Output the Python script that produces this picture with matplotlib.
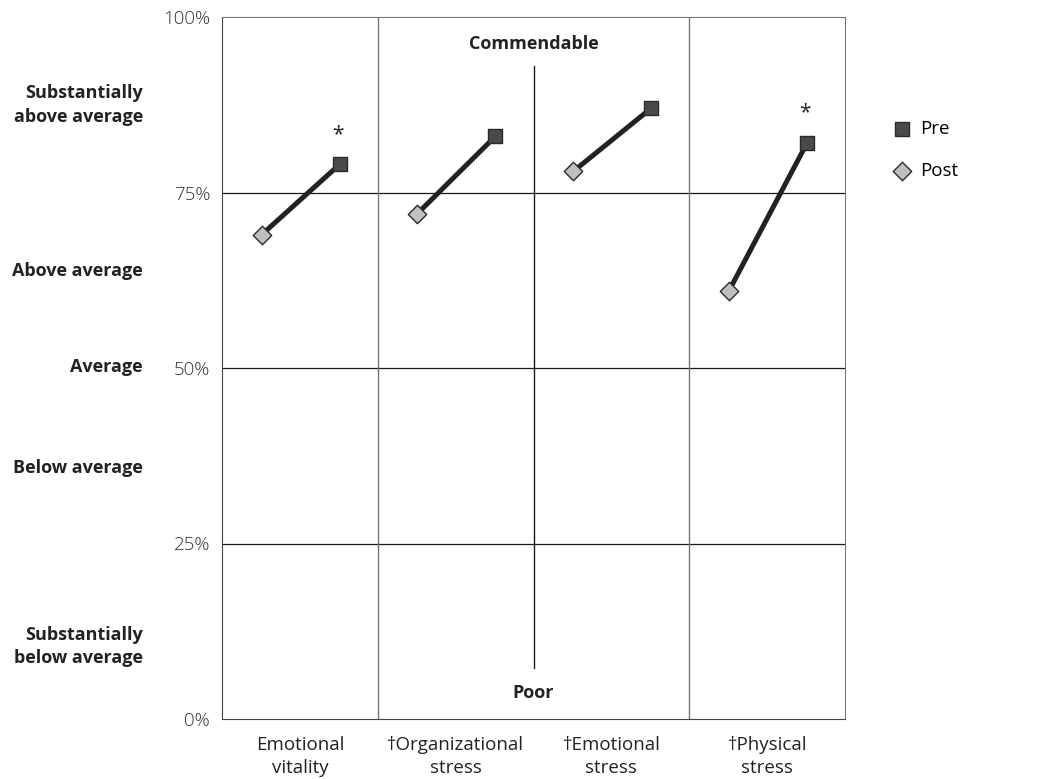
import matplotlib
matplotlib.use("Agg")
import matplotlib.pyplot as plt
import numpy as np

plt.rcParams['font.family'] = ['Open Sans', 'DejaVu Sans']

categories = ["Emotional\nvitality", "\u2020Organizational\nstress", "\u2020Emotional\nstress", "\u2020Physical\nstress"]
pre_values = [79, 83, 87, 82]
post_values = [69, 72, 78, 61]
significant = [True, False, False, True]
yticks = [0, 25, 50, 75, 100]
ytick_labels = ["0%", "25%", "50%", "75%", "100%"]
band_labels = ["Substantially\nabove average", "Above average", "Average", "Below average", "Substantially\nbelow average"]
band_positions = [87.5, 63.8, 50.1, 35.8, 10.3]

fig = plt.figure(figsize=(10.37, 7.79), dpi=100)
ax = fig.add_axes([222/1037, 60/779, 623/1037, 702/779])
ax.set_xlim(0, 4)
ax.set_ylim(0, 100)

pre_col = "#4a4a4a"
post_col = "#c0c0c0"
edge = "#2a2a2a"

# gridlines
for y in [25, 50, 75]:
    ax.axhline(y, color="#1a1a1a", lw=0.9, zorder=1)
for xv in [1, 3]:
    ax.axvline(xv, color="#777777", lw=1.0, zorder=1)
ax.plot([2, 2], [7.3, 93.0], color="#1a1a1a", lw=1.0, zorder=1)

x = np.arange(len(categories))
post_x = x + 0.255
pre_x = x + 0.755
for i in range(len(categories)):
    ax.plot([post_x[i], pre_x[i]], [post_values[i], pre_values[i]], color="#222222", lw=3.6, zorder=2, solid_capstyle='butt')
ax.scatter(pre_x, pre_values, marker='s', s=88, facecolor=pre_col, edgecolor=edge, linewidth=1.0, zorder=3, label="Pre")
ax.scatter(post_x, post_values, marker='D', s=88, facecolor=post_col, edgecolor=edge, linewidth=1.0, zorder=3, label="Post")

for i, sig in enumerate(significant):
    if sig:
        ax.text(pre_x[i] - 0.01, pre_values[i] + 4.3, "*", ha='center', va='center', fontsize=15, color="#222222")

ax.text(2, 96.2, "Commendable", ha='center', va='center', fontsize=13, fontweight='bold', color="#222222")
ax.text(2, 3.7, "Poor", ha='center', va='center', fontsize=13, fontweight='bold', color="#222222")

ax.set_yticks(yticks)
ax.set_yticklabels(ytick_labels, fontsize=13.5, color="#333333", fontweight='light')
ax.set_xticks(x + 0.5)
ax.set_xticklabels(categories, fontsize=13.5, color="#222222", linespacing=1.35)
ax.tick_params(axis='y', length=0, pad=8.5)
ax.tick_params(axis='x', length=0, pad=12.5)

for s in ['left', 'bottom']:
    ax.spines[s].set_color("#444444")
for s in ['right', 'top']:
    ax.spines[s].set_color("#777777")

for lab, pos in zip(band_labels, band_positions):
    fig.text(143/1037, (60 + pos * 7.02) / 779, lab, ha='right', va='center', fontsize=13, fontweight='bold', color="#222222", linespacing=1.4)

leg = ax.legend(loc='upper left', bbox_to_anchor=(1.064, 0.864), frameon=False, fontsize=13.5,
                handlelength=1.0, handletextpad=0.5, labelspacing=1.3, borderaxespad=0)

fig.savefig("out.png", dpi=100)
